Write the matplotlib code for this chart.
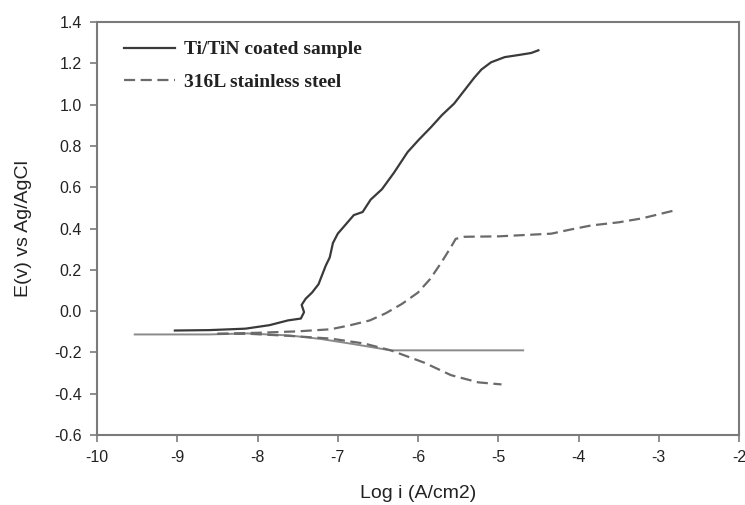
import numpy as np
import matplotlib.pyplot as plt

# Ti/TiN coated sample - anodic branch (log i, E)
coated_anodic_logi = [-9.03, -8.6, -8.15, -7.85, -7.62, -7.46, -7.42, -7.45, -7.40, -7.32, -7.24,
                      -7.18, -7.15, -7.10, -7.06, -7.00, -6.90, -6.80, -6.69, -6.59, -6.45,
                      -6.30, -6.13, -5.99, -5.84, -5.70, -5.55, -5.40, -5.30, -5.21, -5.09,
                      -4.92, -4.75, -4.59, -4.50]
coated_anodic_e = [-0.094, -0.092, -0.085, -0.068, -0.045, -0.036, -0.005, 0.03, 0.06, 0.09, 0.13,
                   0.19, 0.22, 0.26, 0.33, 0.375, 0.42, 0.465, 0.48, 0.54, 0.59,
                   0.67, 0.77, 0.83, 0.89, 0.95, 1.005, 1.08, 1.13, 1.17, 1.205,
                   1.23, 1.24, 1.25, 1.263]

# Ti/TiN coated sample - cathodic branch
coated_cathodic_logi = [-9.53, -8.6, -8.13, -7.6, -7.21, -6.80, -6.34, -5.5, -4.69]
coated_cathodic_e = [-0.113, -0.113, -0.108, -0.118, -0.135, -0.16, -0.19, -0.19, -0.19]

# 316L stainless steel - anodic branch
steel_anodic_logi = [-8.5, -8.0, -7.5, -7.09, -6.84, -6.60, -6.40, -6.20, -6.00, -5.85, -5.71,
                     -5.59, -5.53, -5.42, -5.0, -4.34, -4.10, -3.84, -3.50, -3.21, -2.80]
steel_anodic_e = [-0.11, -0.105, -0.098, -0.088, -0.068, -0.045, -0.01, 0.035, 0.09, 0.155, 0.235,
                  0.31, 0.35, 0.36, 0.362, 0.375, 0.395, 0.415, 0.43, 0.449, 0.488]

# 316L stainless steel - cathodic branch
steel_cathodic_logi = [-8.5, -8.1, -7.6, -7.09, -6.67, -6.34, -5.92, -5.59, -5.25, -4.96]
steel_cathodic_e = [-0.11, -0.11, -0.12, -0.133, -0.157, -0.19, -0.25, -0.31, -0.345, -0.355]

x_ticks = np.arange(-10, -1, 1)
y_ticks = np.round(np.arange(-0.6, 1.41, 0.2), 1)

fig = plt.figure(figsize=(7.45, 5.05), dpi=100)
ax = fig.add_axes([0.1302, 0.1386, 0.8618, 0.8178])

solid_color = '#3a3a3a'
dash_color = '#6a6a6a'

ax.plot(coated_cathodic_logi, coated_cathodic_e, color='#8a8a8a', lw=1.4)
ax.plot(coated_anodic_logi, coated_anodic_e, color=solid_color, lw=1.6,
        label='Ti/TiN coated sample')
ax.plot(steel_cathodic_logi, steel_cathodic_e, color=dash_color, lw=1.6,
        dashes=(5, 2.5))
ax.plot(steel_anodic_logi, steel_anodic_e, color=dash_color, lw=1.6,
        dashes=(5, 2.5), label='316L stainless steel')

ax.set_xlim(-10, -2)
ax.set_ylim(-0.6, 1.4)
ax.set_xticks(x_ticks)
ax.set_yticks(y_ticks)
ax.set_xticklabels([f'{v:d}' for v in x_ticks])
ax.set_yticklabels([f'{v:.1f}' for v in y_ticks])

for s in ax.spines.values():
    s.set_color('#7a7a7a')
    s.set_linewidth(1.5)

ax.tick_params(direction='out', length=5, width=1.2, color='#7a7a7a',
               labelsize=11.5, labelcolor='#222222', pad=6)
for lbl in ax.get_xticklabels() + ax.get_yticklabels():
    lbl.set_family(['Liberation Sans', 'DejaVu Sans'])

ax.set_xlabel('Log i (A/cm2)', fontsize=14, family=['Liberation Sans', 'DejaVu Sans'],
              color='#222222', labelpad=14)
ax.set_ylabel('E(v) vs Ag/AgCl', fontsize=14, family=['Liberation Sans', 'DejaVu Sans'],
              color='#222222', labelpad=16)

leg = ax.legend(loc='upper left', bbox_to_anchor=(0.015, 0.997), frameon=False,
                handlelength=2.6, handletextpad=0.5, labelspacing=0.75,
                prop={'family': 'Liberation Serif', 'weight': 'bold', 'size': 14})
for t in leg.get_texts():
    t.set_color('#222222')

fig.savefig('out.png', dpi=100)
